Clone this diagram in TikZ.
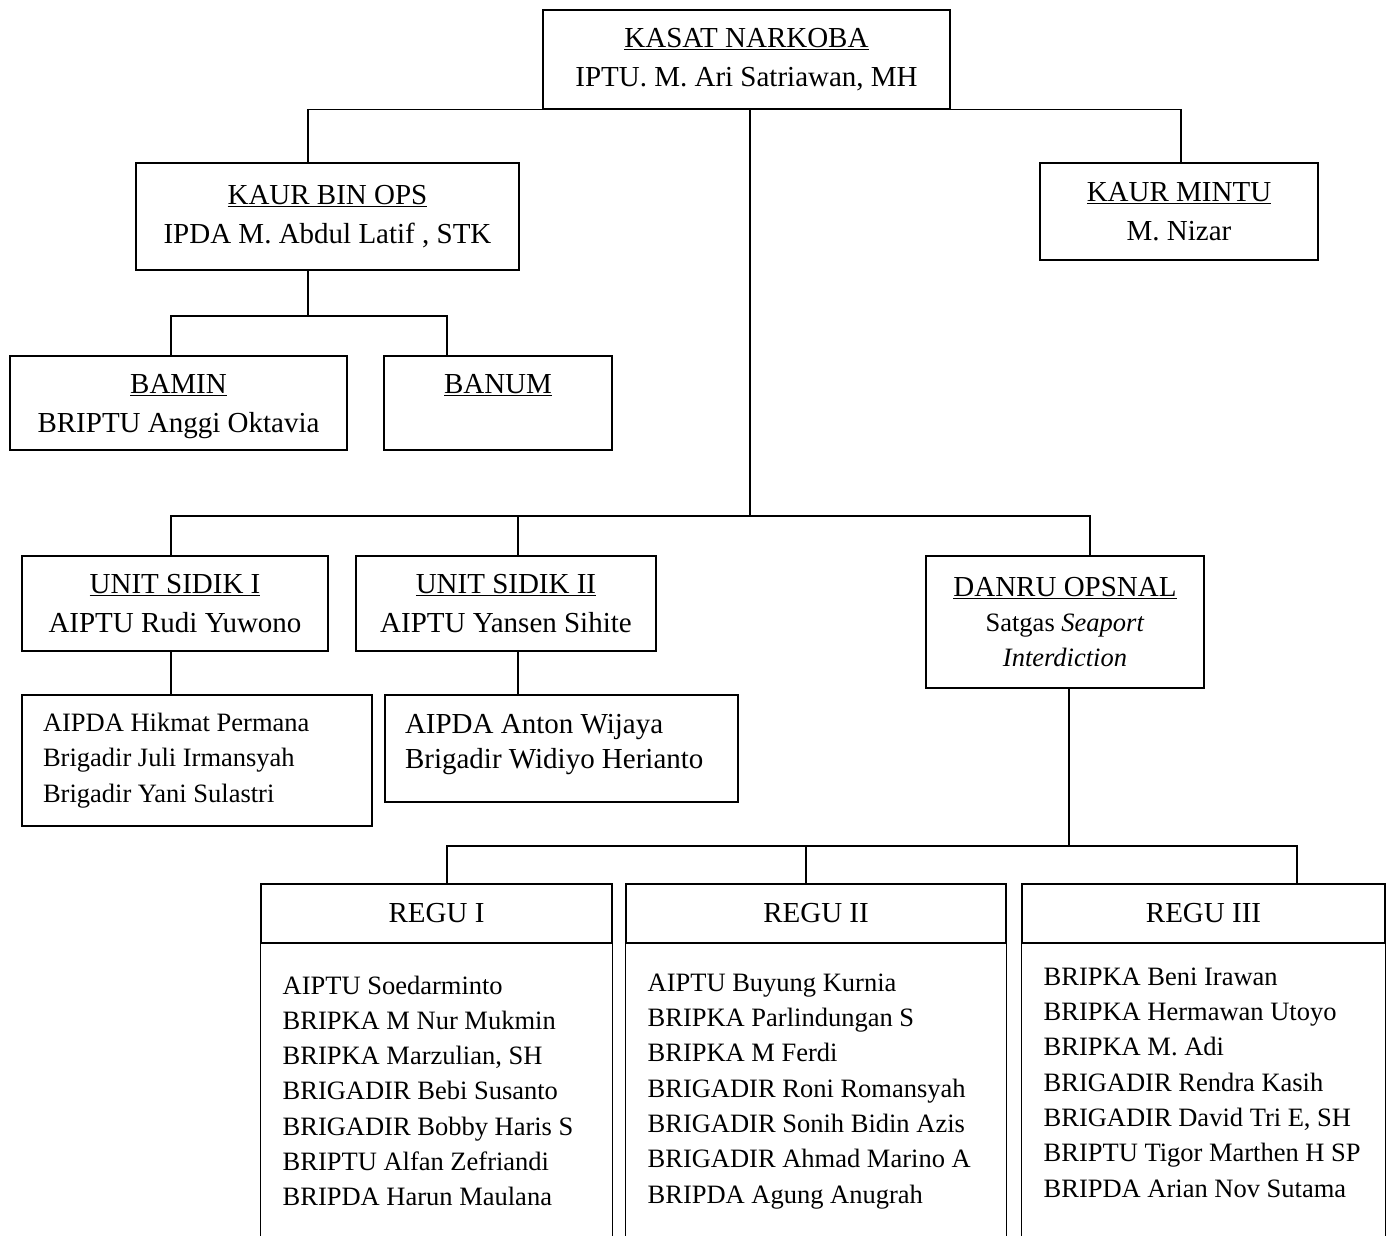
\documentclass[tikz,border=0pt]{standalone}
\usepackage{fontspec}
\setmainfont{Liberation Serif}
\begin{document}
\begin{tikzpicture}[x=1pt,y=-1pt,line width=1.3pt,
  box/.style={draw,line width=1.3pt,align=center,inner sep=0pt,font=\fontsize{29}{39}\selectfont},
  membox/.style={draw,line width=1.3pt,align=flush left,inner ysep=0pt},
  listtext/.style={align=left,inner sep=0pt,anchor=north west,font=\fontsize{26.5}{35.3}\selectfont},
  conn/.style={line width=1.3pt}]
\useasboundingbox (0,0) rectangle (1387,1235);

% top level
\node[box,minimum width=407pt,minimum height=99pt] (kasat) at (746.5,59.5)
  {\underline{KASAT NARKOBA}\\IPTU. M. Ari Satriawan, MH};
\node[box,minimum width=383pt,minimum height=107pt] (kaurbin) at (327.5,216.5)
  {\underline{KAUR BIN OPS}\\IPDA M. Abdul Latif , STK};
\node[box,minimum width=278pt,minimum height=97pt] (kaurmintu) at (1179,211.5)
  {\underline{KAUR MINTU}\\M. Nizar};

% under KAUR BIN OPS
\node[box,minimum width=337pt,minimum height=94pt] (bamin) at (178.5,403)
  {\rule{0pt}{26pt}\underline{BAMIN}\\BRIPTU Anggi Oktavia};
\node[box,minimum width=228pt,minimum height=94pt] (banum) at (498,403)
  {\underline{BANUM}\\\mbox{}};

% units
\node[box,minimum width=306pt,minimum height=95pt] (sidik1) at (175,603.5)
  {\underline{UNIT SIDIK I}\\AIPTU Rudi Yuwono};
\node[box,minimum width=300pt,minimum height=95pt] (sidik2) at (506,603.5)
  {\underline{UNIT SIDIK II}\\AIPTU Yansen Sihite};
\node[box,minimum width=278pt,minimum height=132pt,font=\fontsize{29}{35}\selectfont] (danru) at (1065,622)
  {\underline{DANRU OPSNAL}\\{\fontsize{26.5}{35}\selectfont Satgas \textit{Seaport}}\\{\fontsize{26.5}{35}\selectfont\textit{Interdiction}}};

% members
\node[membox,text width=308pt,inner xsep=21pt,minimum height=131pt,font=\fontsize{26.5}{35.5}\selectfont] (mem1) at (197,760.5)
  {AIPDA Hikmat Permana\\Brigadir Juli Irmansyah\\Brigadir Yani Sulastri};
\node[membox,text width=313pt,inner xsep=20pt,minimum height=107pt,font=\fontsize{29}{35}\selectfont] (mem2) at (561.5,748.5)
  {AIPDA Anton Wijaya\\Brigadir Widiyo Herianto\vspace{8pt}};

% REGU headers
\node[box,minimum width=351pt,minimum height=59pt] (regu1) at (436.5,913.5) {REGU I};
\node[box,minimum width=380pt,minimum height=59pt] (regu2) at (816,913.5) {REGU II};
\node[box,minimum width=363pt,minimum height=59pt] (regu3) at (1203.5,913.5) {REGU III};
\foreach \r in {regu1,regu2,regu3}{
  \draw[conn] (\r.south west) -- (\r.south west |- 0,1245);
  \draw[conn] (\r.south east) -- (\r.south east |- 0,1245);
}

% REGU lists
\node[listtext] (list1) at (282,975)
  {AIPTU Soedarminto\\BRIPKA M Nur Mukmin\\BRIPKA Marzulian, SH\\BRIGADIR Bebi Susanto\\BRIGADIR Bobby Haris S\\BRIPTU Alfan Zefriandi\\BRIPDA Harun Maulana};
\node[listtext] (list2) at (647,973)
  {AIPTU Buyung Kurnia\\BRIPKA Parlindungan S\\BRIPKA M Ferdi\\BRIGADIR Roni Romansyah\\BRIGADIR Sonih Bidin Azis\\BRIGADIR Ahmad Marino A\\BRIPDA Agung Anugrah};
\node[listtext] (list3) at (1043,967)
  {BRIPKA Beni Irawan\\BRIPKA Hermawan Utoyo\\BRIPKA M. Adi\\BRIGADIR Rendra Kasih\\BRIGADIR David Tri E, SH\\BRIPTU Tigor Marthen H SP\\BRIPDA Arian Nov Sutama};

% connectors
\draw[conn] (kaurbin.north -| 308,0) |- (kasat.south) -| (kaurmintu.north -| 1181,0);

\coordinate (bus1) at (308,316);
\draw[conn] (kaurbin.south -| bus1) -- (bus1);
\draw[conn] (bamin.north -| 171,0) |- (bus1) -| (banum.north -| 447,0);

\coordinate (bus2) at (750,516);
\draw[conn] (kasat.south -| bus2) -- (bus2);
\draw[conn] (sidik1.north -| 171,0) |- (bus2) -| (danru.north -| 1090,0);
\draw[conn] (bus2 -| 518,0) -- (sidik2.north -| 518,0);

\draw[conn] (sidik1.south -| 171,0) -- (mem1.north -| 171,0);
\draw[conn] (sidik2.south -| 518,0) -- (mem2.north -| 518,0);

\coordinate (bus3) at (1069,846);
\draw[conn] (danru.south -| bus3) -- (bus3);
\draw[conn] (regu1.north -| 447,0) |- (bus3) -| (regu3.north -| 1297,0);
\draw[conn] (bus3 -| 806,0) -- (regu2.north -| 806,0);
\end{tikzpicture}
\end{document}
